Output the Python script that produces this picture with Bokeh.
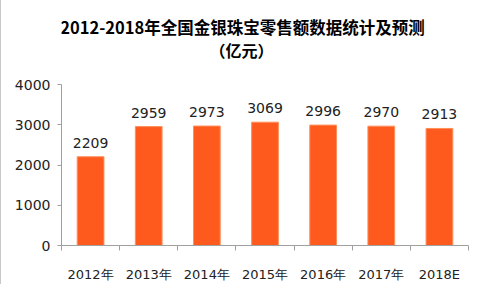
from bokeh.plotting import figure
from bokeh.models import ColumnDataSource, FixedTicker, Range1d, LabelSet, Label
from bokeh.core.properties import value
from bokeh.embed import file_html
from bokeh.resources import INLINE

categories = ["2012年", "2013年", "2014年", "2015年", "2016年", "2017年", "2018E"]
values = [2209, 2959, 2973, 3069, 2996, 2970, 2913]
y_ticks = [0, 1000, 2000, 3000, 4000]
y_max = 4000
title_text = "2012-2018年全国金银珠宝零售额数据统计及预测"
unit_text = "（亿元）"

# layout (pixels)
W, H = 482, 284
FRAME_LEFT, FRAME_RIGHT = 60, 467
FRAME_BOTTOM = 250      # canvas y of value 0
AXIS_TOP = 86           # canvas y of value 4000
ppu = (FRAME_BOTTOM - AXIS_TOP) / y_max   # pixels per unit
y_top = FRAME_BOTTOM / ppu                # range top so frame reaches canvas top
ppx = (FRAME_RIGHT - FRAME_LEFT) / len(categories)

def cy(canvas_y):
    return (FRAME_BOTTOM - canvas_y) / ppu

def cx(canvas_x):
    return (canvas_x - FRAME_LEFT) / ppx

xs = [i + 0.5 for i in range(len(categories))]
src = ColumnDataSource(dict(x=xs, v=values, lab=[str(v) for v in values]))

FONT = "DejaVu Sans"

p = figure(width=W, height=H, output_backend="svg", toolbar_location=None,
           x_range=Range1d(0, len(categories)), y_range=Range1d(0, y_top),
           min_border_left=FRAME_LEFT, min_border_right=W - FRAME_RIGHT, min_border_top=0,
           min_border_bottom=H - FRAME_BOTTOM)
p.title.visible = False

p.add_layout(Label(x=cx(241), y=cy(27), text=title_text,
                   text_align="center", text_baseline="middle", text_font_size="16.5px",
                   text_font="Noto Sans CJK SC", text_font_style="bold", text_color="#000000"))
p.add_layout(Label(x=cx(240), y=cy(51), text=unit_text,
                   text_align="center", text_baseline="middle", text_font_size="16px",
                   text_font="Noto Sans CJK SC", text_font_style="bold", text_color="#000000"))

p.vbar(x="x", top="v", width=0.46, source=src, fill_color="#FF5A1E", line_color="#FF8F5A", line_width=1)
p.add_layout(LabelSet(x="x", y="v", text="lab", source=src, text_align="center",
                      text_baseline="bottom", y_offset=9, text_font_size="14px",
                      text_font=value(FONT), text_color="#222222"))

p.xgrid.visible = False
p.ygrid.visible = False
p.outline_line_color = None

xa = p.xaxis[0]
xa.ticker = FixedTicker(ticks=xs, minor_ticks=list(range(len(categories) + 1)))
xa.major_label_overrides = {x: c for x, c in zip(xs, categories)}
xa.major_tick_out = 0
xa.major_tick_in = 0
xa.minor_tick_out = 5
xa.minor_tick_in = 0
xa.axis_line_color = "#A0A0A0"
xa.minor_tick_line_color = "#A0A0A0"
xa.major_label_standoff = 16
xa.major_label_text_font = FONT
xa.major_label_text_font_size = "13px"
xa.major_label_text_color = "#222222"

ya = p.yaxis[0]
ya.ticker = FixedTicker(ticks=y_ticks)
ya.bounds = (0, y_max)
ya.major_tick_out = 4
ya.major_tick_in = 0
ya.minor_tick_out = 0
ya.minor_tick_in = 0
ya.axis_line_color = "#A0A0A0"
ya.major_tick_line_color = "#A0A0A0"
ya.major_label_standoff = 7
ya.major_label_text_font = FONT
ya.major_label_text_font_size = "14px"
ya.major_label_text_color = "#222222"

p.styles = {"border-left": "1px solid #c8c8c8", "box-sizing": "border-box"}

open("out.html", "w").write(file_html(p, INLINE))
